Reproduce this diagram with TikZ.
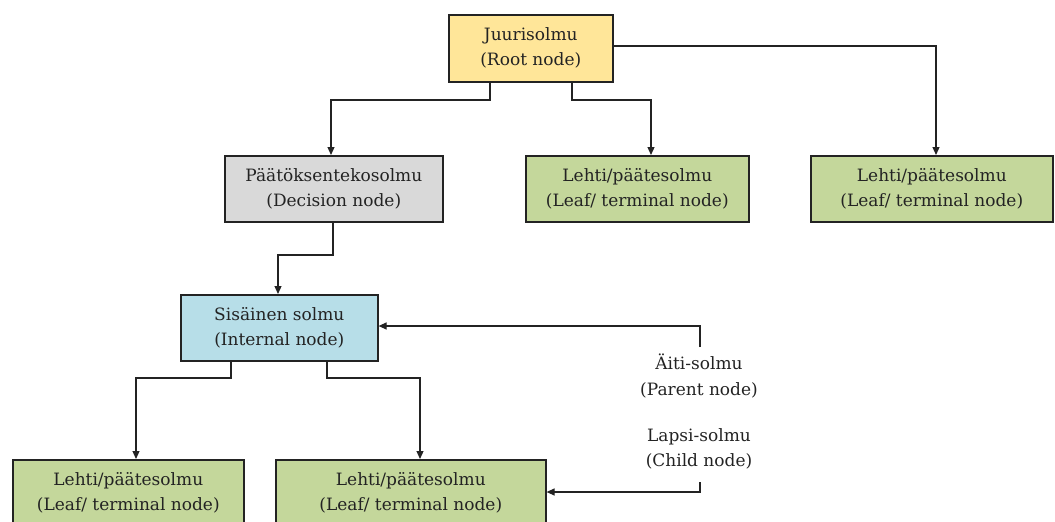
\documentclass[tikz,border=0pt]{standalone}
\usepackage{fontspec}
\setmainfont{DejaVu Serif}
\usetikzlibrary{arrows.meta}
\definecolor{rootfill}{RGB}{255,230,153}
\definecolor{decfill}{RGB}{217,217,217}
\definecolor{leaffill}{RGB}{196,215,155}
\definecolor{intfill}{RGB}{183,222,232}
\definecolor{ink}{RGB}{35,35,35}
\tikzset{
  box/.style={draw=ink, line width=1.6pt, anchor=north west, inner sep=0pt,
    align=center, text=ink, font=\fontsize{17}{25}\selectfont},
  lbl/.style={align=center, text=ink, font=\fontsize{17}{25}\selectfont},
  conn/.style={draw=ink, line width=1.2pt, -{Triangle[length=8pt,width=7pt]}},
}
\begin{document}
\begin{tikzpicture}[x=1pt,y=-1pt]
\useasboundingbox (0,0) rectangle (1055,522);
% boxes
\node[box, fill=rootfill, minimum width=164pt, minimum height=67pt] (root) at (448,14) {Juurisolmu\\(Root node)};
\node[box, fill=decfill, minimum width=218pt, minimum height=66pt] (dec) at (224,155) {Päätöksentekosolmu\\(Decision node)};
\node[box, fill=leaffill, minimum width=223pt, minimum height=66pt] (leafa) at (525,155) {Lehti/päätesolmu\\(Leaf/ terminal node)};
\node[box, fill=leaffill, minimum width=242pt, minimum height=66pt] (leafb) at (810,155) {Lehti/päätesolmu\\(Leaf/ terminal node)};
\node[box, fill=intfill, minimum width=197pt, minimum height=66pt] (int) at (180,294) {Sisäinen solmu\\(Internal node)};
\node[box, fill=leaffill, minimum width=231pt, minimum height=66pt] (leafc) at (12,459) {Lehti/päätesolmu\\(Leaf/ terminal node)};
\node[box, fill=leaffill, minimum width=270pt, minimum height=66pt] (leafd) at (275,459) {Lehti/päätesolmu\\(Leaf/ terminal node)};
% labels
\node[lbl] (parent) at (699,376) {Äiti-solmu\\(Parent node)};
\node[lbl] (child) at (699,449) {Lapsi-solmu\\(Child node)};
\coordinate (pend) at (700,347);
\coordinate (cend) at (700,482);
% connectors
\draw[conn] (root.south west -| 490,0) |- (331,100) -- (dec.north -| 331,0);
\draw[conn] (root.south west -| 572,0) |- (651,100) -- (leafa.north -| 651,0);
\draw[conn] (root.east |- 0,46) -| (leafb.north -| 936,0);
\draw[conn] (dec.south west -| 333,0) |- (278,255) -- (int.north -| 278,0);
\draw[conn] (int.south west -| 231,0) |- (136,378) -- (leafc.north -| 136,0);
\draw[conn] (int.south west -| 327,0) |- (420,378) -- (leafd.north -| 420,0);
\draw[conn] (pend) |- (int.east |- 0,326);
\draw[conn] (cend) |- (leafd.east |- 0,492);
\end{tikzpicture}
\end{document}
